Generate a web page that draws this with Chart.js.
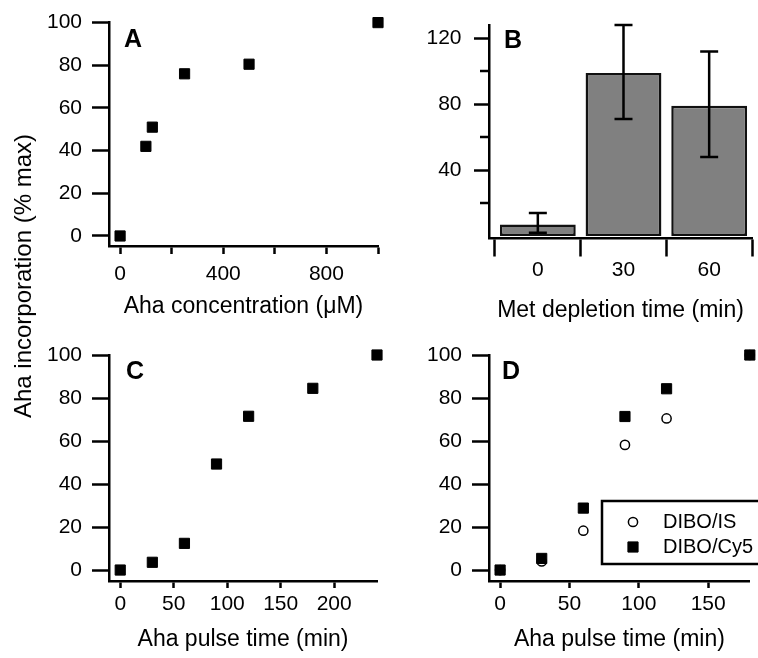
<!DOCTYPE html>
<html>
<head>
<meta charset="utf-8">
<script src="https://cdn.jsdelivr.net/npm/chart.js@4.4.1/dist/chart.umd.min.js"></script>
<style>
html, body { margin: 0; padding: 0; background: #fff; }
#wrap { position: relative; width: 758px; height: 658px; overflow: hidden; background: #fff; }
#wrap canvas { position: absolute; left: 0; top: 0; }
#ytitle {
  position: absolute; left: -177px; top: 264px; width: 400px; height: 24px;
  line-height: 24px; text-align: center; white-space: nowrap;
  font-family: 'Liberation Sans', Arial, Helvetica, sans-serif; font-size: 24px; color: #000;
  transform: rotate(-90deg); transform-origin: 50% 50%;
}
</style>
</head>
<body>
<div id="wrap">
  <canvas id="cA" width="758" height="658"></canvas>
  <canvas id="cB" width="758" height="658"></canvas>
  <canvas id="cC" width="758" height="658"></canvas>
  <canvas id="cD" width="758" height="658"></canvas>
  <div id="ytitle">Aha incorporation (% max)</div>
</div>
<script>
// ---------------- DATA ----------------
// Panel A: Aha concentration series
const ahaConcentration = [0, 100, 125, 250, 500, 1000];
const incorporationA   = [0, 42, 51, 76, 80.5, 100];

// Panel B: Met depletion time (bars with error bars)
const depletionLabels  = ['0', '30', '60'];
const incorporationB   = [7, 99, 79];
const errorLowB        = [2, 71, 48];
const errorHighB       = [14, 128, 112];

// Panel C: Aha pulse time
const pulseTimeC       = [0, 30, 60, 90, 120, 180, 240];
const incorporationC   = [0, 3.6, 12.4, 49.3, 71.5, 84.5, 100];

// Panel D: Aha pulse time, two detection methods
const pulseTimeD       = [0, 30, 60, 90, 120, 180];
const dIboIS           = [0, 4, 18.3, 58.2, 70.5, 100];
const dIboCy5          = [0, 5.4, 28.8, 71.4, 84.3, 100];

// Tick values / labels
const yTicksPct        = [0, 20, 40, 60, 80, 100];
const xTicksA          = [0, 200, 400, 600, 800, 1000];
const xLabelsA         = [0, 400, 800];
const yTicksBMajor     = [40, 80, 120];
const yTicksBMinor     = [20, 60, 100];
const xTicksC          = [0, 50, 100, 150, 200];
const xTicksD          = [0, 50, 100, 150];

// ---------------- HELPERS ----------------
const FONT = "'Liberation Sans', Arial, Helvetica, sans-serif";
Chart.defaults.font.family = FONT;
Chart.defaults.color = '#000';

function xy(xs, ys) { return xs.map((x, i) => ({ x: x, y: ys[i] })); }

function axis(o) {
  return {
    type: 'linear', position: o.pos, min: o.min, max: o.max, bounds: 'data', offset: false,
    afterBuildTicks: s => { s.ticks = o.ticks.map(v => ({ value: v })); },
    afterFit: s => { if (o.pos === 'left') s.width = o.size; else s.height = o.size; },
    border: { display: true, color: '#000', width: 2.5 },
    grid: { display: true, drawOnChartArea: false, drawTicks: true, tickLength: o.tl,
            tickWidth: 2.5, tickColor: '#000', color: '#000', offset: !!o.gridOffset },
    ticks: { display: true, autoSkip: false, maxRotation: 0, minRotation: 0, padding: o.pad,
             font: { size: 21 }, color: '#000', callback: o.label },
    title: o.title ? { display: true, text: o.title, font: { size: 23 }, color: '#000',
                       padding: { top: 0, bottom: o.tpb } } : { display: false }
  };
}

const panelLetter = {
  id: 'panelLetter',
  afterDraw(chart, args, o) {
    const ctx = chart.ctx;
    ctx.save();
    ctx.font = 'bold 25px ' + FONT;
    ctx.fillStyle = '#000';
    ctx.textBaseline = 'alphabetic';
    ctx.fillText(o.text, chart.chartArea.left + o.dx, chart.chartArea.top + o.dy);
    ctx.restore();
  }
};

const minorTicks = {
  id: 'minorTicks',
  afterDraw(chart, args, o) {
    if (!o.values) return;
    const ctx = chart.ctx, y = chart.scales.y, left = chart.chartArea.left;
    ctx.save();
    ctx.strokeStyle = '#000'; ctx.lineWidth = 2.5;
    o.values.forEach(v => {
      const py = Math.round(y.getPixelForValue(v));
      ctx.beginPath(); ctx.moveTo(left - o.length, py); ctx.lineTo(left, py); ctx.stroke();
    });
    ctx.restore();
  }
};

const errorBars = {
  id: 'errorBars',
  afterDatasetsDraw(chart, args, o) {
    if (!o.low) return;
    const ctx = chart.ctx, y = chart.scales.y;
    const meta = chart.getDatasetMeta(0);
    ctx.save();
    ctx.strokeStyle = '#000'; ctx.lineWidth = 2.5;
    o.low.forEach((lo, i) => {
      const px = meta.data[i].x;
      const yl = y.getPixelForValue(lo), yh = y.getPixelForValue(o.high[i]);
      const hw = o.cap / 2;
      ctx.beginPath();
      ctx.moveTo(px, yl); ctx.lineTo(px, yh);
      ctx.moveTo(px - hw, yl); ctx.lineTo(px + hw, yl);
      ctx.moveTo(px - hw, yh); ctx.lineTo(px + hw, yh);
      ctx.stroke();
    });
    ctx.restore();
  }
};

const boxLegend = {
  id: 'boxLegend',
  afterDraw(chart, args, o) {
    if (!o.order) return;
    const ctx = chart.ctx;
    ctx.save();
    ctx.lineWidth = 2.5; ctx.strokeStyle = '#000';
    ctx.strokeRect(o.x, o.y, o.w, o.h);
    ctx.font = '20px ' + FONT;
    ctx.textBaseline = 'middle';
    o.order.forEach((label, k) => {
      const ds = chart.data.datasets.find(d => d.label === label);
      const cy = o.y + o.first + k * o.step, cx = o.x + o.markerDx;
      ctx.fillStyle = ds.backgroundColor; ctx.strokeStyle = ds.borderColor; ctx.lineWidth = ds.borderWidth;
      ctx.beginPath();
      if (ds.pointStyle === 'circle') {
        ctx.arc(cx, cy, ds.pointRadius, 0, Math.PI * 2);
      } else {
        const s = ds.pointRadius * Math.SQRT1_2;
        ctx.rect(cx - s, cy - s, 2 * s, 2 * s);
      }
      ctx.fill(); ctx.stroke();
      ctx.fillStyle = '#000';
      ctx.fillText(label, o.x + o.textDx, cy);
    });
    ctx.restore();
  }
};

Chart.register(panelLetter, minorTicks, errorBars, boxLegend);

const squareStyle = { pointStyle: 'rect', pointRadius: 7.2, backgroundColor: '#000',
                      borderColor: '#000', borderWidth: 1, showLine: false, clip: false };

const common = { responsive: false, animation: false, events: [],
                 plugins: { legend: { display: false }, tooltip: { enabled: false } } };

// ---------------- PANEL A ----------------
new Chart(document.getElementById('cA'), {
  type: 'scatter',
  data: { datasets: [Object.assign({ label: 'A', data: xy(ahaConcentration, incorporationA) }, squareStyle)] },
  options: Object.assign({}, common, {
    layout: { padding: { left: 0, right: 380, top: 21, bottom: 332 } },
    plugins: Object.assign({}, common.plugins, { panelLetter: { text: 'A', dx: 15, dy: 24 } }),
    scales: {
      x: axis({ pos: 'bottom', min: -43, max: 1000, ticks: xTicksA, size: 80, tl: 8, pad: 7.5,
                label: v => xLabelsA.includes(v) ? String(v) : '',
                title: 'Aha concentration (\u03bcM)', tpb: 6 }),
      y: axis({ pos: 'left', min: -4.7, max: 100, ticks: yTicksPct, size: 109, tl: 17, pad: 10,
                label: v => String(v) })
    }
  })
});

// ---------------- PANEL B ----------------
new Chart(document.getElementById('cB'), {
  type: 'bar',
  data: { datasets: [{ label: 'B', data: xy([0, 1, 2], incorporationB),
                       backgroundColor: '#808080', borderColor: '#111', borderWidth: 2.5,
                       borderSkipped: false, barPercentage: 0.885, categoryPercentage: 1 }] },
  options: Object.assign({}, common, {
    layout: { padding: { left: 380, right: 6, top: 21, bottom: 329.5 } },
    plugins: Object.assign({}, common.plugins, {
      panelLetter: { text: 'B', dx: 15, dy: 22.5 },
      minorTicks: { values: yTicksBMinor, length: 9 },
      errorBars: { low: errorLowB, high: errorHighB, cap: 18 }
    }),
    scales: {
      x: axis({ pos: 'bottom', min: -0.57, max: 2.5, ticks: [0, 1, 2], size: 90, tl: 18, pad: 1,
                gridOffset: true, label: v => depletionLabels[v],
                title: 'Met depletion time (min)', tpb: 3.7 }),
      y: axis({ pos: 'left', min: -1.5, max: 128, ticks: yTicksBMajor, size: 109, tl: 15, pad: 12.5,
                label: v => String(v) })
    }
  })
});

// ---------------- PANEL C ----------------
new Chart(document.getElementById('cC'), {
  type: 'scatter',
  data: { datasets: [Object.assign({ label: 'C', data: xy(pulseTimeC, incorporationC) }, squareStyle)] },
  options: Object.assign({}, common, {
    layout: { padding: { left: 0, right: 381, top: 355, bottom: 2 } },
    plugins: Object.assign({}, common.plugins, { panelLetter: { text: 'C', dx: 17, dy: 24 } }),
    scales: {
      x: axis({ pos: 'bottom', min: -10.5, max: 240, ticks: xTicksC, size: 75, tl: 7, pad: 3.5,
                label: v => String(v), title: 'Aha pulse time (min)', tpb: 2.2 }),
      y: axis({ pos: 'left', min: -5.1, max: 100, ticks: yTicksPct, size: 109, tl: 17, pad: 10,
                label: v => String(v) })
    }
  })
});

// ---------------- PANEL D ----------------
new Chart(document.getElementById('cD'), {
  type: 'scatter',
  data: { datasets: [
    Object.assign({ label: 'DIBO/Cy5', data: xy(pulseTimeD, dIboCy5) }, squareStyle),
    { label: 'DIBO/IS', data: xy(pulseTimeD, dIboIS), pointStyle: 'circle', pointRadius: 4.6,
      backgroundColor: '#fff', borderColor: '#000', borderWidth: 1.5, showLine: false, clip: false }
  ] },
  options: Object.assign({}, common, {
    layout: { padding: { left: 380, right: 1, top: 355, bottom: 2 } },
    plugins: Object.assign({}, common.plugins, {
      panelLetter: { text: 'D', dx: 13, dy: 24 },
      boxLegend: { order: ['DIBO/IS', 'DIBO/Cy5'], x: 602, y: 501, w: 170, h: 63,
                   first: 21, step: 25, markerDx: 31, textDx: 61 }
    }),
    scales: {
      x: axis({ pos: 'bottom', min: -8, max: 180, ticks: xTicksD, size: 75, tl: 7, pad: 3.5,
                label: v => String(v), title: 'Aha pulse time (min)', tpb: 2.2 }),
      y: axis({ pos: 'left', min: -5.1, max: 100, ticks: yTicksPct, size: 109, tl: 17, pad: 10,
                label: v => String(v) })
    }
  })
});
</script>
</body>
</html>
